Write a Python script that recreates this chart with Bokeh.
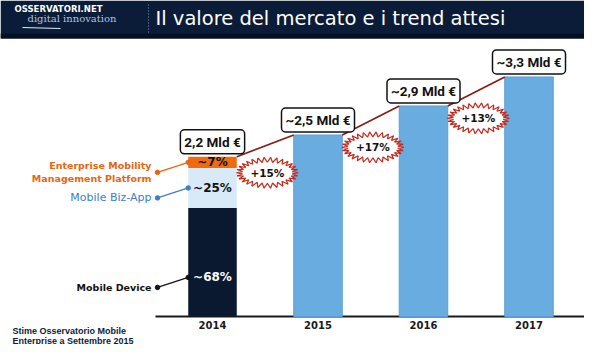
import math
from bokeh.plotting import figure
from bokeh.models import Range1d, Label, BoxAnnotation, ColumnDataSource
from bokeh.core.properties import value
from bokeh.embed import file_html
from bokeh.resources import INLINE

# ---------------- data ----------------
YEARS = ["2014", "2015", "2016", "2017"]
TOTALS = [2.2, 2.5, 2.9, 3.3]
TOTAL_LABELS = ["2,2 Mld €", "~2,5 Mld €", "~2,9 Mld €", "~3,3 Mld €"]
GROWTH_LABELS = ["+15%", "+17%", "+13%"]
SEG_NAMES = ["Mobile Device", "Mobile Biz-App", "Enterprise Mobility\nManagement Platform"]
SEG_SHARES = [68, 25, 7]
SEG_LABELS = ["~68%", "~25%", "~7%"]
TITLE = "Il valore del mercato e i trend attesi"
NOTE = ["Stime Osservatorio Mobile", "Enterprise a Settembre 2015"]

# ---------------- styles ----------------
SEG_COLORS = ["#0a1930", "#d8eaf7", "#f06a10"]
SEG_TEXT_COLORS = ["#ffffff", "#111111", "#111111"]
NAME_COLORS = ["#111111", "#3b7fc4", "#e8650e"]
NAME_STYLES = ["bold", "normal", "bold"]
NAME_SIZES = ["9.5px", "11px", "9.5px"]
BAR_COLOR = "#69ade0"
NAVY = "#0b1c38"

W, H = 584, 344
PX_X, X0_PX = 105.5, 212.0     # pixels per category step, pixel of first bar
PX_Y, BASE_PX = 72.6, 316.0    # pixels per Mld, pixel of baseline


def xd(px):
    return (px - X0_PX) / PX_X


def yd(px):
    return (BASE_PX - px) / PX_Y


BAR_W = 0.46

p = figure(width=W, height=H, output_backend="svg", toolbar_location=None,
           x_range=Range1d(xd(0), xd(W)), y_range=Range1d(yd(H), yd(0)),
           x_axis_location=None, y_axis_location=None,
           min_border_left=0, min_border_right=0, min_border_top=0, min_border_bottom=0)
p.grid.visible = False
p.outline_line_color = None
p.background_fill_color = "white"
p.border_fill_color = "white"

# header band
p.add_layout(BoxAnnotation(bottom=yd(38), fill_color=NAVY, fill_alpha=1.0,
                           line_color=None, level="underlay"))
p.add_layout(BoxAnnotation(bottom=yd(38), top=yd(33), fill_color="#050f22", fill_alpha=1.0,
                           line_color=None, level="underlay"))
p.segment(x0=[xd(148)], y0=[yd(4)], x1=[xd(148)], y1=[yd(32)], line_color="#7f94b4",
          line_width=1, line_dash="1 2")
p.segment(x0=[xd(22)], y0=[yd(27)], x1=[xd(60)], y1=[yd(28)], line_color="#dfe8f4",
          line_width=1.2)

p.add_layout(Label(x=xd(155), y=yd(18), text=TITLE, text_color="white",
                   text_font="DejaVu Sans", text_font_size="19.5px", text_baseline="middle"))
p.add_layout(Label(x=xd(14), y=yd(8), text="OSSERVATORI.NET", text_color="white",
                   text_font="DejaVu Sans", text_font_style="bold", text_font_size="8.5px",
                   text_baseline="middle"))
p.add_layout(Label(x=xd(27), y=yd(18), text="digital innovation", text_color="#a9c4e6",
                   text_font="DejaVu Serif", text_font_size="10px", text_baseline="middle"))

# baseline (x axis line) and year labels
p.segment(x0=[xd(155)], y0=[0], x1=[xd(585)], y1=[0], line_color="#1a1a1a", line_width=2)
p.text(x=list(range(len(YEARS))), y=[yd(324)] * len(YEARS), text=YEARS,
       text_align="center", text_baseline="middle", text_font=value("DejaVu Sans"),
       text_font_style="bold", text_font_size="10px", text_color="#1a1a1a")

# 2015-2017 bars
bars = ColumnDataSource(dict(x=list(range(1, len(YEARS))), top=TOTALS[1:]))
p.vbar(x="x", top="top", bottom=0, width=BAR_W, source=bars, fill_color=BAR_COLOR,
       line_color="#5c9fd3", line_width=1)

# 2014 stacked bar
seg_h = [TOTALS[0] * s / 100 for s in SEG_SHARES]
seg_bot = [sum(seg_h[:i]) for i in range(len(seg_h))]
seg_top = [b + h for b, h in zip(seg_bot, seg_h)]
seg_frac = [0.36, 0.5, 0.5]
seg_lab_y = [b + h * f for b, h, f in zip(seg_bot, seg_h, seg_frac)]
segs = ColumnDataSource(dict(x=[0] * 3, bottom=seg_bot, top=seg_top, color=SEG_COLORS,
                             lab=SEG_LABELS, laby=seg_lab_y, tcol=SEG_TEXT_COLORS))
p.vbar(x="x", bottom="bottom", top="top", width=BAR_W, fill_color="color", line_color=None,
       source=segs)
p.text(x="x", y="laby", text="lab", text_color="tcol", source=segs, text_align="center",
       text_baseline="middle", text_font=value("DejaVu Sans"), text_font_style="bold",
       text_font_size="12px")

# segment names with leaders
name_y = [y - 10 / PX_Y for y in seg_lab_y]
names = ColumnDataSource(dict(x=[xd(151)] * 3, y=name_y, t=SEG_NAMES, c=NAME_COLORS,
                              fs=NAME_STYLES, fz=NAME_SIZES, dx=[xd(157)] * 3,
                              ex=[-BAR_W / 2] * 3, ey=seg_lab_y))
p.text(x="x", y="y", text="t", text_color="c", source=names, text_align="right",
       text_baseline="middle", text_font=value("DejaVu Sans"),
       text_font_style="fs", text_font_size="fz", text_line_height=1.2)
p.segment(x0="dx", y0="y", x1="ex", y1="ey", line_color="c", line_width=1.2, source=names)
p.scatter(x="dx", y="y", color="c", size=4.5, source=names)
p.scatter(x="ex", y="ey", color="c", size=4.5, source=names)

# trend line
n = len(TOTALS)
trend = ColumnDataSource(dict(x0=[i + BAR_W / 2 for i in range(n - 1)], y0=TOTALS[:-1],
                              x1=[i + 1 - BAR_W / 2 for i in range(n - 1)], y1=TOTALS[1:]))
p.segment(x0="x0", y0="y0", x1="x1", y1="y1", source=trend, line_color="#8a1a12",
          line_width=1.6)

# growth starbursts
bx, by = [], []
cxs, cys = [], []
for i in range(n - 1):
    cx = i + 0.52
    cy = (TOTALS[i] + TOTALS[i + 1]) / 2 - 0.37
    cxs.append(cx)
    cys.append(cy)
    k = 30
    xs, ys = [], []
    for j in range(2 * k):
        t = math.pi * j / k
        rx, ry = (31, 15.5) if j % 2 == 0 else (25, 10.5)
        xs.append(cx + rx * math.cos(t) / PX_X)
        ys.append(cy + ry * math.sin(t) / PX_Y)
    bx.append(xs)
    by.append(ys)
p.patches(xs=bx, ys=by, fill_color="white", line_color="#c52a1e", line_width=1.2)
p.text(x=cxs, y=cys, text=GROWTH_LABELS, text_align="center", text_baseline="middle",
       text_font=value("DejaVu Sans"), text_font_style="bold", text_font_size="10.5px",
       text_color="#111111")

# total boxes
tot = ColumnDataSource(dict(x=list(range(n)), y=TOTALS, t=TOTAL_LABELS))
p.text(x="x", y="y", text="t", source=tot, anchor="bottom_center", y_offset=-3,
       text_font=value("Roboto"), text_font_style="bold", text_font_size="13.5px",
       text_color="#111111", background_fill_color="white", border_line_color="#111111",
       border_line_width=1.5, border_radius=4, padding=4)

# footnote
p.text(x=[xd(12)] * 2, y=[yd(330), yd(340)], text=NOTE, text_color="#0b1c38",
       text_font=value("Liberation Sans"), text_font_style="bold",
       text_font_size="9px", text_baseline="middle")

open("out.html", "w").write(file_html(p, INLINE))
